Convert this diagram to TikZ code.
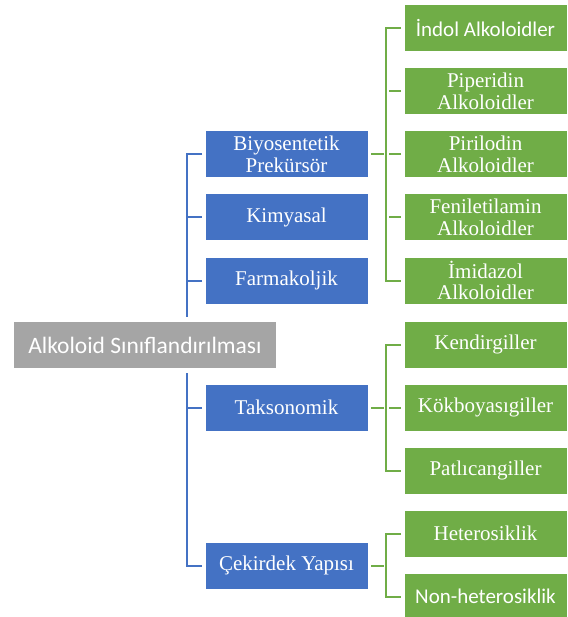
\documentclass[tikz,border=0pt]{standalone}
\usepackage{fontspec}
\setmainfont{Liberation Serif}
\newfontfamily\calibri{Carlito}
\usetikzlibrary{positioning}
\definecolor{catblue}{HTML}{4472C4}
\definecolor{catgreen}{HTML}{70AD47}
\definecolor{catgray}{HTML}{A5A5A5}

\begin{document}
\begin{tikzpicture}[x=1pt,y=-1pt,
  		box/.style={align=center, rectangle, draw=white, line width=1pt, text=white,
    		minimum width=163pt, minimum height=47pt, inner sep=0pt,
    		font=\fontsize{21}{21.5}\selectfont},
  		root/.style={box, fill=catgray, minimum width=264pt, minimum height=48pt, line width=1.5pt,
    		font=\calibri\fontsize{23.5}{25}\selectfont},
  		group/.style={box, fill=catblue},
  		leaf/.style={box, fill=catgreen},
  		bline/.style={draw=catblue, line width=2pt, shorten <=2.5pt},
  		gline/.style={draw=catgreen, line width=2pt, shorten <=2.5pt, shorten >=2.5pt}]
    		\useasboundingbox (0,0) rectangle (567,617);
    		\coordinate (trunk) at (187,0);
    		\coordinate (gtrunk) at (386,0);
    		% Parent
      		\node[root] (root) at (145,345) {Alkoloid Sınıflandırılması};
    		% Children
      		\node[group] (bio) at (286.5,154.5) {Biyosentetik\\ Prekürsör};
      		\node[group] (kim) at (286.5,217.5) {Kimyasal};
      		\node[group] (far) at (286.5,280.5) {Farmakoljik};
      		\node[group] (tak) at (286.5,407.5) {Taksonomik};
      		\node[group] (cek) at (286.5,565.5) {Çekirdek Yapısı};
    		% Grandchildren
      		\node[leaf,font=\calibri\fontsize{21}{21.5}\selectfont] (ind) at (485.5,28) {İndol Alkoloidler};
      		\node[leaf] (pip) at (485.5,91.5) {Piperidin\\ Alkoloidler};
      		\node[leaf] (pir) at (485.5,154.5) {Pirilodin\\ Alkoloidler};
      		\node[leaf] (fen) at (485.5,217.5) {Feniletilamin\\ Alkoloidler};
      		\node[leaf] (imi) at (485.5,280.5) {İmidazol\\ Alkoloidler};
      		\node[leaf] (ken) at (485.5,344.5) {Kendirgiller};
      		\node[leaf] (kok) at (485.5,407.5) {Kökboyasıgiller};
      		\node[leaf] (pat) at (485.5,470.5) {Patlıcangiller};
      		\node[leaf] (het) at (485.5,533.5) {Heterosiklik};
      		\node[leaf,font=\calibri\fontsize{21}{21.5}\selectfont] (non) at (485.5,596.5) {Non-heterosiklik};
    		% Parent to children
      		\draw[bline] (bio.west) -| ([yshift=3pt]root.north -| trunk);
      		\draw[bline] (cek.west) -| ([yshift=-3pt]root.south -| trunk);
      		\draw[bline] (kim.west) -- (kim.west -| trunk);
      		\draw[bline] (far.west) -- (far.west -| trunk);
      		\draw[bline] (tak.west) -- (tak.west -| trunk);
    		% Children to grandchildren
      		\draw[gline] (bio.east) -- (bio.east -| gtrunk);
      		\draw[gline] (ind.west) -| (imi.west -| gtrunk) -- (imi.west);
      		\draw[gline] (pip.west) -- (pip.west -| gtrunk);
      		\draw[gline] (pir.west) -- (pir.west -| gtrunk);
      		\draw[gline] (fen.west) -- (fen.west -| gtrunk);
      		\draw[gline] (tak.east) -- (tak.east -| gtrunk);
      		\draw[gline] (ken.west) -| (pat.west -| gtrunk) -- (pat.west);
      		\draw[gline] (kok.west) -- (kok.west -| gtrunk);
      		\draw[gline] (cek.east) -- (cek.east -| gtrunk);
      		\draw[gline] (het.west) -| (non.west -| gtrunk) -- (non.west);
	\end{tikzpicture}
\end{document}
